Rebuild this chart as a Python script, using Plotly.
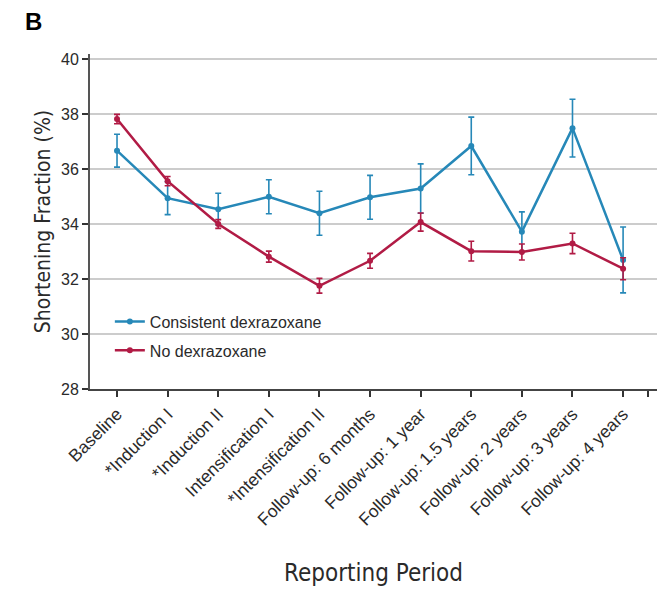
import plotly.graph_objects as go

# Reporting periods (x-axis categories)
periods = [
    "Baseline", "*Induction I", "*Induction II", "Intensification I",
    "*Intensification II", "Follow-up: 6 months", "Follow-up: 1 year",
    "Follow-up: 1.5 years", "Follow-up: 2 years", "Follow-up: 3 years",
    "Follow-up: 4 years",
]

# Mean shortening fraction (%) and error half-widths
consistent_mean = [36.68, 34.95, 34.55, 35.0, 34.4, 34.98, 35.3, 36.85, 33.73, 37.5, 32.7]
consistent_err = [0.6, 0.6, 0.58, 0.62, 0.8, 0.8, 0.9, 1.05, 0.72, 1.05, 1.2]

none_mean = [37.83, 35.57, 34.01, 32.82, 31.76, 32.67, 34.08, 33.02, 32.99, 33.3, 32.38]
none_err = [0.17, 0.17, 0.16, 0.2, 0.27, 0.27, 0.33, 0.36, 0.29, 0.37, 0.4]

y_ticks = [28, 30, 32, 34, 36, 38, 40]

BLUE = "#2688b8"
RED = "#b11b45"
TEXT = "#2a2a2a"
NARROW = "Liberation Sans Narrow, DejaVu Sans Condensed, Arial Narrow, sans-serif"

x_idx = list(range(len(periods)))

fig = go.Figure()


def add_series(name, means, errs, color, group):
    fig.add_trace(go.Scatter(
        x=x_idx, y=means, name=name, mode="lines+markers",
        legendgroup=group,
        line=dict(color=color, width=2.5),
        marker=dict(color=color, size=6, symbol="circle"),
        error_y=dict(type="data", array=errs, visible=True,
                     color=color, thickness=1.6, width=3),
    ))


add_series("Consistent dexrazoxane", consistent_mean, consistent_err, BLUE, "a")
add_series("No dexrazoxane", none_mean, none_err, RED, "b")

fig.update_layout(
    width=666, height=591,
    margin=dict(l=90, r=9, t=54, b=202),
    paper_bgcolor="white", plot_bgcolor="white",
    font=dict(family="Arial, Liberation Sans, sans-serif", size=15, color=TEXT),
    showlegend=True,
    legend=dict(
        x=0.035, y=0.252, xanchor="left", yanchor="top",
        bgcolor="rgba(0,0,0,0)", traceorder="grouped", tracegroupgap=5,
        font=dict(size=16, color=TEXT),
    ),
    annotations=[dict(
        text="<b>B</b>", xref="paper", yref="paper",
        x=-0.118, y=1.098, xanchor="left", yanchor="middle",
        showarrow=False, font=dict(size=24, color="black"),
    )],
)

fig.update_xaxes(
    range=[-0.534, 10.67],
    tickmode="array",
    tickvals=x_idx + [10.5],
    ticktext=periods + [""],
    tickangle=-45,
    ticks="outside", ticklen=6, tickwidth=1.6, tickcolor="#333333",
    showline=True, linecolor="#444444", linewidth=2,
    showgrid=False, zeroline=False,
    tickfont=dict(size=17.5, color=TEXT),
    title=dict(text="Reporting Period", font=dict(family=NARROW, size=24, color=TEXT),
               standoff=36),
)

fig.update_yaxes(
    range=[28, 40.2],
    tickmode="array", tickvals=y_ticks,
    ticks="outside", ticklen=6, tickwidth=1.6, tickcolor="#333333",
    showline=True, linecolor="#555555", linewidth=2,
    showgrid=True, gridcolor="#cccccc", gridwidth=1.5,
    zeroline=False,
    tickfont=dict(size=16, color=TEXT),
    title=dict(text="Shortening Fraction (%)", font=dict(family=NARROW, size=21, color=TEXT),
               standoff=5),
)

fig.write_html("out.html")
